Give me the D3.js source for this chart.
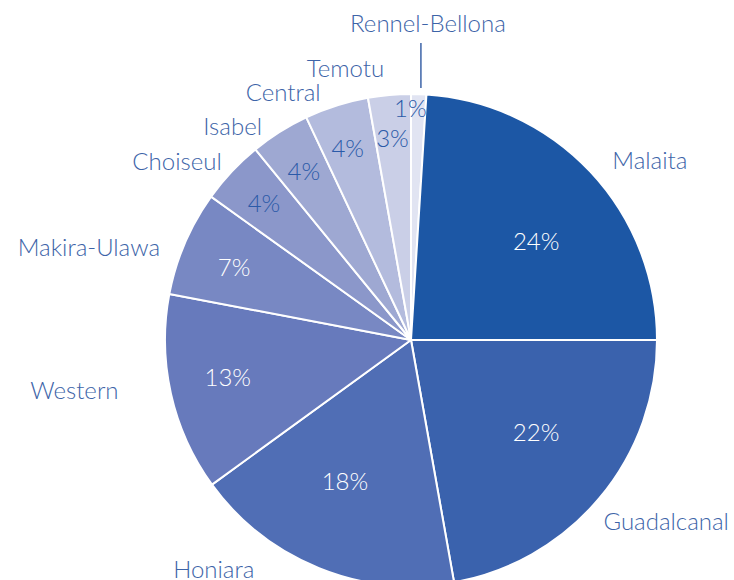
<!DOCTYPE html>
<html>
<head>
<meta charset="utf-8">
<script src="https://cdn.jsdelivr.net/npm/d3@7"></script>
<style>
  html, body { margin: 0; padding: 0; background: #fff; }
  svg { display: block; }
  text { font-family: Lato, "Open Sans", sans-serif; }
</style>
</head>
<body>
<div id="chart"></div>
<script>
// ---- data ----
const provinces = ["Rennel-Bellona", "Malaita", "Guadalcanal", "Honiara", "Western",
                   "Makira-Ulawa", "Choiseul", "Isabel", "Central", "Temotu"];
const shares = [1.0, 24.0, 22.2, 17.8, 13.0, 6.9, 4.2, 3.9, 4.2, 2.8];

// ---- style / layout ----
const colors = ["#e1e4f2", "#1c57a5", "#3a62ad", "#506eb5", "#677abc",
                "#7888c3", "#8b97ca", "#9ea8d2", "#b3bbdd", "#cacfe7"];
const labelNudge = [[0, 0], [3, 6], [-16, 6], [-55, -24], [-27, -10],
                    [-1, 14], [9, 7], [-4, 16], [-8, 11], [-3, -2]];
const pctNudge = [[-8, 0], [10, 9], [4, -10], [-7, -6], [-29, 2],
                  [6, 5], [-2, -1], [-1, -1], [-3, -3], [-1, -4]];

const W = 734, H = 580;
const cx = 411, cy = 340, R = 246;
const labelColor = "#3d64a8";
const darkText = "#2b5aa8";
const FS = 24;

const svg = d3.select("#chart").append("svg").attr("width", W).attr("height", H);
const g = svg.append("g").attr("transform", `translate(${cx},${cy})`);

const data = provinces.map((p, i) => ({ name: p, value: shares[i], color: colors[i],
  nudge: labelNudge[i], pnudge: pctNudge[i] }));
const pie = d3.pie().sort(null).value(d => d.value);
const arcs = pie(data);
const arc = d3.arc().innerRadius(0).outerRadius(R);

g.selectAll("path.slice").data(arcs).join("path")
  .attr("class", "slice")
  .attr("d", arc)
  .attr("fill", d => d.data.color)
  .attr("stroke", "#fff")
  .attr("stroke-width", 2)
  .attr("stroke-linejoin", "round");

const total = d3.sum(shares);
const fmt = v => Math.round(v / total * 100) + "%";
const mid = d => (d.startAngle + d.endAngle) / 2;

// percentage labels
function pctRadius(d) {
  const span = d.endAngle - d.startAngle;
  if (span > 0.7) return 158;
  if (span > 0.1) return 199;
  return 233;
}
g.selectAll("text.pct").data(arcs).join("text")
  .attr("class", "pct")
  .attr("x", d => Math.sin(mid(d)) * pctRadius(d) + d.data.pnudge[0])
  .attr("y", d => -Math.cos(mid(d)) * pctRadius(d) + d.data.pnudge[1])
  .attr("text-anchor", "middle")
  .attr("dominant-baseline", "central")
  .attr("font-size", FS)
  .attr("font-weight", 300)
  .attr("fill", (d, i) => (i >= 1 && i <= 5) ? "#ffffff" : darkText)
  .text(d => fmt(d.data.value));

// outer labels
const RL = 272;
arcs.forEach((d, i) => {
  const a = mid(d);
  if (i === 0) {
    const x = Math.sin(a) * (R + 6) + 2;
    g.append("line")
      .attr("x1", x).attr("x2", x)
      .attr("y1", -Math.cos(a) * (R + 6)).attr("y2", -(R + 51))
      .attr("stroke", labelColor).attr("stroke-width", 1.5);
    g.append("text")
      .attr("x", x + 7).attr("y", -(R + 72))
      .attr("text-anchor", "middle")
      .attr("dominant-baseline", "central")
      .attr("font-size", FS).attr("font-weight", 300)
      .attr("fill", labelColor)
      .text(d.data.name);
    return;
  }
  const x = Math.sin(a) * RL + d.data.nudge[0];
  const y = -Math.cos(a) * RL + d.data.nudge[1];
  g.append("text")
    .attr("x", x).attr("y", y)
    .attr("text-anchor", Math.sin(a) >= 0 ? "start" : "end")
    .attr("dominant-baseline", "central")
    .attr("font-size", FS).attr("font-weight", 300)
    .attr("fill", labelColor)
    .text(d.data.name);
});
</script>
</body>
</html>
